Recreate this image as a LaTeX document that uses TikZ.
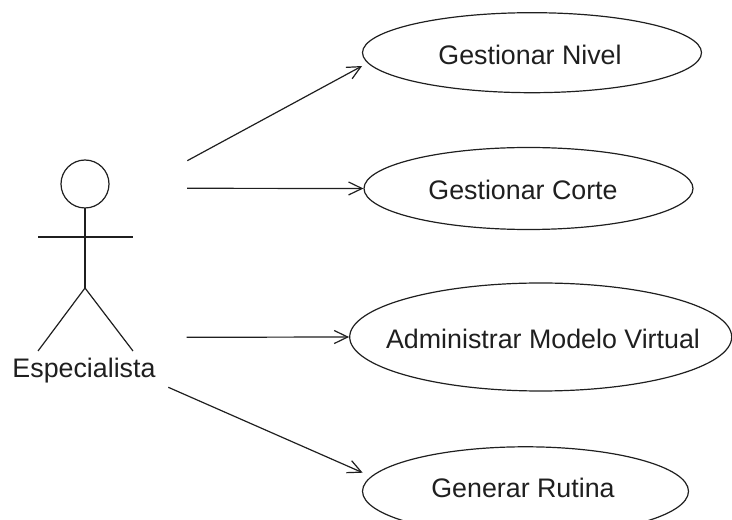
\documentclass[tikz,border=0pt]{standalone}
\usepackage{fontspec}
\setmainfont{Liberation Sans}
\usetikzlibrary{arrows.meta,shapes.geometric,calc}
\definecolor{ink}{gray}{0.12}
\begin{document}
\begin{tikzpicture}[x=1pt,y=1pt,
  line/.style={draw=ink,line width=1.2pt},
  usecase/.style={line,ellipse,inner sep=0pt},
  uctext/.style={text=ink,inner sep=0pt,
    font=\fontsize{26.8}{32}\selectfont},
  assoc/.style={line,-{Straight Barb[length=13.5pt,width=13pt,line width=1.2pt]}},
  actorlabel/.style={text=ink,anchor=base,inner sep=0pt,
    font=\fontsize{26.8}{32}\selectfont}]
\useasboundingbox (0,0) rectangle (732,520);
\clip (0,0) rectangle (732,520);

% stick figure of the actor
\draw[line] (85,336) circle[radius=24];
\draw[line] (85,312) -- (85,232);
\draw[line] (38,283) -- (133,283);
\draw[line] (38,169) -- (85,232) -- (133,169);
\node[actorlabel] (actor) at (84,142) {Especialista};

% use-case outlines
\node[usecase,minimum width=339pt,minimum height=80pt] (uc1) at (532,467.3) {};
\node[usecase,minimum width=329pt,minimum height=82pt] (uc2) at (528.5,331.5) {};
\node[usecase,minimum width=382pt,minimum height=108pt] (uc3) at (540.7,183) {};
\node[usecase,minimum width=326pt,minimum height=89pt] (uc4) at (525.5,28.7) {};

% use-case names
\node[uctext] (t1) at ($(uc1.center)+(-2,-2)$) {Gestionar Nivel};
\node[uctext] (t2) at ($(uc2.center)+(-5.5,-1)$) {Gestionar Corte};
\node[uctext] (t3) at ($(uc3.center)+(2.3,-2)$) {Administrar Modelo Virtual};
\node[uctext] (t4) at ($(uc4.center)+(-2.5,3)$) {Generar Rutina};

% association start points beside the actor
\coordinate (a1) at (187.3,359.3);
\coordinate (a2) at (187,331.7);
\coordinate (a3) at (186.7,182.7);
\coordinate (a4) at (168.3,132.7);

\draw[assoc] (a1) -- ($(uc1.west)+(0.2,-13.3)$);
\draw[assoc] (a2) -- (uc2.west);
\draw[assoc] (a3) -- (uc3.west);
\draw[assoc] (a4) -- ($(uc4.west)+(0.8,18.6)$);
\end{tikzpicture}
\end{document}
